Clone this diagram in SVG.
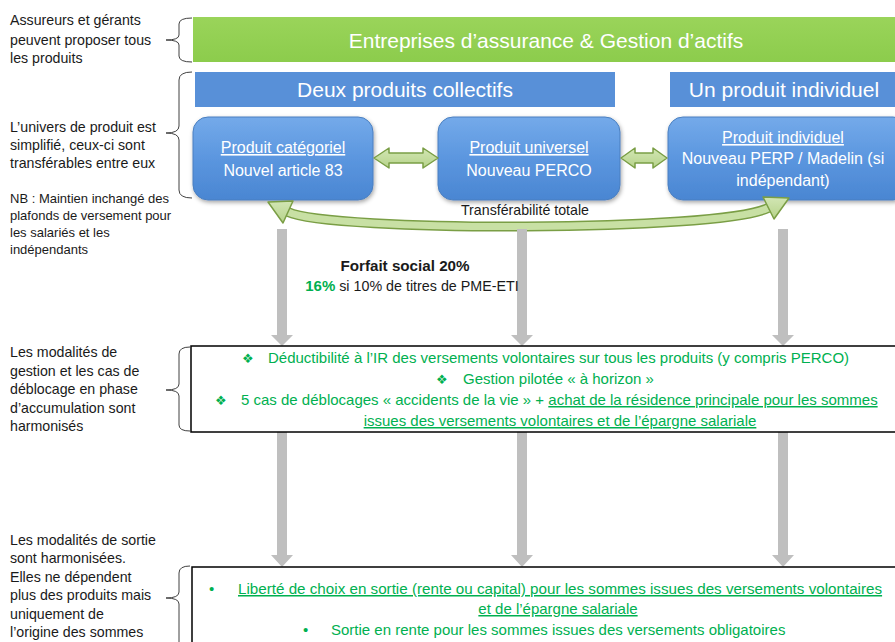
<svg xmlns="http://www.w3.org/2000/svg" width="895" height="642" viewBox="0 0 895 642">
<defs>
<linearGradient id="gBlue" x1="0" y1="0" x2="0" y2="1">
<stop offset="0" stop-color="#74aaea"/>
<stop offset="0.5" stop-color="#5b96df"/>
<stop offset="1" stop-color="#4a86d2"/>
</linearGradient>
<linearGradient id="gGreenBar" x1="0" y1="0" x2="0" y2="1">
<stop offset="0" stop-color="#9ad45a"/>
<stop offset="1" stop-color="#8ccc4c"/>
</linearGradient>
<linearGradient id="gArrow" x1="0" y1="0" x2="0" y2="1">
<stop offset="0" stop-color="#d2e6b4"/>
<stop offset="1" stop-color="#b6d38a"/>
</linearGradient>
<filter id="shadow" x="-10%" y="-10%" width="125%" height="130%">
<feDropShadow dx="1" dy="2" stdDeviation="2" flood-color="#000" flood-opacity="0.35"/>
</filter>
</defs>
<style>
text{font-family:"Liberation Sans",Arial,sans-serif;}
.left{font-size:14.2px;fill:#1a1a1a;}
.nb{font-size:13px;}
.bar{font-size:21px;fill:#fff;text-anchor:middle;}
.box{font-size:16px;fill:#fff;text-anchor:middle;}
.u{text-decoration:underline;}
.grn{font-size:15px;fill:#00b050;}
.mid{text-anchor:middle;}
.bul{font-family:"DejaVu Sans",sans-serif;font-size:13px;fill:#00b050;}
.brace{fill:none;stroke:#404040;stroke-width:1;}
.pbox{fill:url(#gBlue);stroke:#4a7fc0;stroke-width:1;filter:url(#shadow);}
.garrow{fill:#bfbfbf;}
.barrow{fill:url(#gArrow);stroke:#7a9e45;stroke-width:1.5;stroke-linejoin:round;}
.frame{fill:#fff;stroke:#000;stroke-width:1.5;}
</style>
<rect width="895" height="642" fill="#fff"/>

<g id="left-labels">
<text class="left" x="10" y="25">Assureurs et gérants</text>
<text class="left" x="10" y="45">peuvent proposer tous</text>
<text class="left" x="10" y="63">les produits</text>
<text class="left" x="10" y="132">L’univers de produit est</text>
<text class="left" x="10" y="150">simplifié, ceux-ci sont</text>
<text class="left" x="10" y="168">transférables entre eux</text>
<text class="left nb" x="10" y="203">NB : Maintien inchangé des</text>
<text class="left nb" x="10" y="220">plafonds de versement pour</text>
<text class="left nb" x="10" y="237">les salariés et les</text>
<text class="left nb" x="10" y="254">indépendants</text>
<text class="left" x="10" y="357">Les modalités de</text>
<text class="left" x="10" y="376">gestion et les cas de</text>
<text class="left" x="10" y="394">déblocage en phase</text>
<text class="left" x="10" y="413">d’accumulation sont</text>
<text class="left" x="10" y="431">harmonisés</text>
<text class="left" x="10" y="545">Les modalités de sortie</text>
<text class="left" x="10" y="563">sont harmonisées.</text>
<text class="left" x="10" y="582">Elles ne dépendent</text>
<text class="left" x="10" y="600">plus des produits mais</text>
<text class="left" x="10" y="619">uniquement de</text>
<text class="left" x="10" y="637">l’origine des sommes</text>
</g>

<g id="braces">
<path class="brace" d="M192 18 Q179 18 179 24 L179 35 Q179 40 166 40 Q179 40 179 45 L179 56 Q179 62 192 62"/>
<path class="brace" d="M192 72 Q179 72 179 80 L179 126 Q179 133 166 133 Q179 133 179 140 L179 190 Q179 198 192 198"/>
<path class="brace" d="M190 347 Q179 347 179 354 L179 384 Q179 390 166 390 Q179 390 179 396 L179 425 Q179 431 190 431"/>
<path class="brace" d="M190 566 Q179 566 179 573 L179 592 Q179 598 166 598 Q179 598 179 604 L179 642"/>
</g>

<g id="entreprises">
<rect x="193" y="17" width="702" height="45" fill="url(#gGreenBar)"/>
<text class="bar" x="546" y="48">Entreprises d’assurance &amp; Gestion d’actifs</text>
</g>

<g id="collectifs">
<rect x="195" y="72" width="420" height="35" fill="#5890d8"/>
<text class="bar" x="405" y="97">Deux produits collectifs</text>
</g>

<g id="individuel-bar">
<rect x="670" y="72" width="225" height="35" fill="#5890d8"/>
<text class="bar" x="784" y="97">Un produit individuel</text>
</g>

<g id="produit-categoriel">
<rect class="pbox" x="193" y="117" width="180" height="83" rx="15"/>
<text class="box u" x="283" y="153">Produit catégoriel</text>
<text class="box" x="283" y="176">Nouvel article 83</text>
</g>

<g id="produit-universel">
<rect class="pbox" x="438" y="117" width="182" height="83" rx="15"/>
<text class="box u" x="529" y="153">Produit universel</text>
<text class="box" x="529" y="176">Nouveau PERCO</text>
</g>

<g id="produit-individuel">
<rect class="pbox" x="668" y="117" width="240" height="83" rx="15"/>
<text class="box u" x="783" y="143">Produit individuel</text>
<text class="box" x="783" y="164">Nouveau PERP / Madelin (si</text>
<text class="box" x="783" y="186">indépendant)</text>
</g>

<g id="connectors">
<polygon class="barrow" points="374,158 389,148 389,153 423,153 423,148 438,158 423,168 423,163 389,163 389,168"/>
<polygon class="barrow" points="621,158 635,148 635,153 653,153 653,148 667,158 653,168 653,163 635,163 635,168"/>
<path d="M288 212 C330 232 720 232 768 208" fill="none" stroke="#7a9e45" stroke-width="10"/>
<path d="M288 212 C330 232 720 232 768 208" fill="none" stroke="#c8e0a4" stroke-width="7"/>
<polygon class="barrow" points="268,202 293,201 283,223"/>
<polygon class="barrow" points="789,198 763,197 774,219"/>
<path class="garrow" d="M277 229 H287 V335 H293 L282 346 L271 335 H277 Z"/>
<path class="garrow" d="M517 229 H527 V335 H533 L522 346 L511 335 H517 Z"/>
<path class="garrow" d="M778 229 H788 V335 H794 L783 346 L772 335 H778 Z"/>
<path class="garrow" d="M277 432 H287 V555 H293 L282 567 L271 555 H277 Z"/>
<path class="garrow" d="M517 432 H527 V555 H533 L522 567 L511 555 H517 Z"/>
<path class="garrow" d="M778 432 H788 V555 H794 L783 567 L772 555 H778 Z"/>
</g>

<g id="transferabilite-label">
<text x="525" y="215" style="font-size:14.2px;fill:#1a1a1a;text-anchor:middle">Transférabilité totale</text>
</g>

<g id="forfait-social">
<text x="405" y="271" style="font-size:15.2px;font-weight:bold;fill:#1a1a1a;text-anchor:middle">Forfait social 20%</text>
<text x="412" y="291" style="font-size:14.3px;fill:#1a1a1a;text-anchor:middle"><tspan style="font-weight:bold;fill:#00b050;font-size:15px">16%</tspan> si 10% de titres de PME-ETI</text>
</g>

<g id="accumulation">
<rect class="frame" x="191" y="346" width="710" height="86"/>
<text class="bul" x="242" y="363">❖</text>
<text class="grn" x="268" y="363">Déductibilité à l’IR des versements volontaires sur tous les produits (y compris PERCO)</text>
<text class="bul" x="436" y="384">❖</text>
<text class="grn" x="463" y="384">Gestion pilotée « à horizon »</text>
<text class="bul" x="215" y="405">❖</text>
<text class="grn" x="241" y="405">5 cas de déblocages « accidents de la vie » + <tspan class="u">achat de la résidence principale pour les sommes</tspan></text>
<text class="grn mid u" x="560" y="426">issues des versements volontaires et de l’épargne salariale</text>
</g>

<g id="sortie">
<rect class="frame" x="192" y="567" width="710" height="80"/>
<text class="grn" x="209" y="594">•</text>
<text class="grn u" x="238" y="594" style="font-size:15.2px">Liberté de choix en sortie (rente ou capital) pour les sommes issues des versements volontaires</text>
<text class="grn mid u" x="558" y="614">et de l’épargne salariale</text>
<text class="grn" x="303" y="635">•</text>
<text class="grn" x="331" y="635">Sortie en rente pour les sommes issues des versements obligatoires</text>
</g>
</svg>
